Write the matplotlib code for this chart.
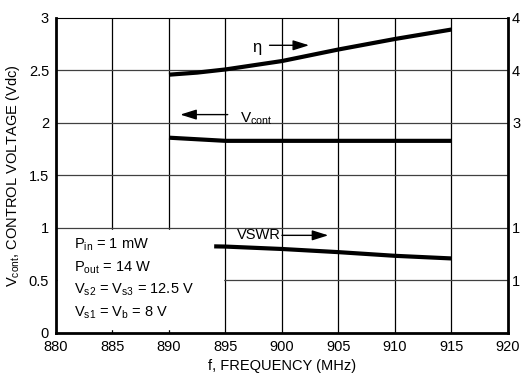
import matplotlib
matplotlib.use("Agg")
import matplotlib.pyplot as plt

plt.rcParams['font.family'] = ['Liberation Sans', 'DejaVu Sans']

# values (left axis units)
freq_eta = [890, 892.5, 895, 900, 905, 910, 915]
eta = [2.46, 2.48, 2.51, 2.59, 2.70, 2.80, 2.89]

freq_vcont = [890, 892.5, 895, 900, 905, 910, 915]
vcont = [1.86, 1.845, 1.83, 1.83, 1.83, 1.83, 1.83]

freq_vswr = [894, 895, 900, 905, 910, 915]
vswr = [0.825, 0.823, 0.80, 0.77, 0.735, 0.71]

xticks = [880, 885, 890, 895, 900, 905, 910, 915, 920]
yticks = [0, 0.5, 1, 1.5, 2, 2.5, 3]
right_labels = ['', '1', '1', '', '3', '4', '4']

fig = plt.figure(figsize=(5.22, 3.82), dpi=100)
ax = fig.add_axes([0.1073, 0.1283, 0.8657, 0.8246])

ax.set_xlim(880, 920)
ax.set_ylim(0, 3)
ax.set_xticks(xticks)
ax.set_yticks(yticks)
ax.set_yticklabels(['0', '0.5', '1', '1.5', '2', '2.5', '3'])

for x in xticks[1:-1]:
    ax.axvline(x, color='black', lw=0.9, zorder=1)
for y in yticks[1:-1]:
    ax.axhline(y, color='0.25', lw=0.9, zorder=1)

ax.plot(freq_eta, eta, color='black', lw=3, solid_capstyle='butt', zorder=3)
ax.plot(freq_vcont, vcont, color='black', lw=3, solid_capstyle='butt', zorder=3)
ax.plot(freq_vswr, vswr, color='black', lw=3, solid_capstyle='butt', zorder=3)

for s in ['left', 'bottom', 'right']:
    ax.spines[s].set_linewidth(2)
ax.spines['top'].set_linewidth(0.8)

ax.tick_params(axis='both', direction='in', length=0, labelsize=10.5, pad=5)

ax2 = ax.twinx()
ax2.set_ylim(0, 3)
ax2.set_yticks(yticks)
ax2.set_yticklabels(right_labels)
ax2.tick_params(axis='y', direction='in', length=0, labelsize=10.5, pad=3)
for s in ax2.spines.values():
    s.set_visible(False)

# annotations
arrow = dict(arrowstyle='-|>,head_length=0.7,head_width=0.22', color='black', lw=1,
             mutation_scale=14, shrinkA=0, shrinkB=0)
ax.text(897.8, 2.72, 'η', fontsize=12, ha='center', va='center', zorder=4)
ax.annotate('', xy=(902.4, 2.74), xytext=(898.9, 2.74), arrowprops=arrow)

ax.text(896.3, 2.04, r'V$_{\mathregular{cont}}$', fontsize=11, ha='left', va='center', zorder=4)
ax.annotate('', xy=(891.0, 2.08), xytext=(895.2, 2.08), arrowprops=arrow)

ax.text(896.0, 0.93, 'VSWR', fontsize=10.5, ha='left', va='center', zorder=4)
ax.annotate('', xy=(904.1, 0.93), xytext=(900.0, 0.93), arrowprops=arrow)

box_lines = [r'P$_{\mathregular{in}}$ = 1 mW',
             r'P$_{\mathregular{out}}$ = 14 W',
             r'V$_{\mathregular{s2}}$ = V$_{\mathregular{s3}}$ = 12.5 V',
             r'V$_{\mathregular{s1}}$ = V$_{\mathregular{b}}$ = 8 V']
ax.fill_between([880.2, 894.8], 0.04, 0.985, color='white', zorder=2)
for i, line in enumerate(box_lines):
    ax.text(881.6, 0.84 - i * 0.215, line, fontsize=10.5, ha='left', va='center', zorder=4)

ax.set_xlabel('f, FREQUENCY (MHz)', fontsize=10.5, labelpad=4)
ax.set_ylabel(r'V$_{\mathregular{cont}}$, CONTROL VOLTAGE (Vdc)', fontsize=10.5, labelpad=5)

fig.savefig('out.png', dpi=100)
